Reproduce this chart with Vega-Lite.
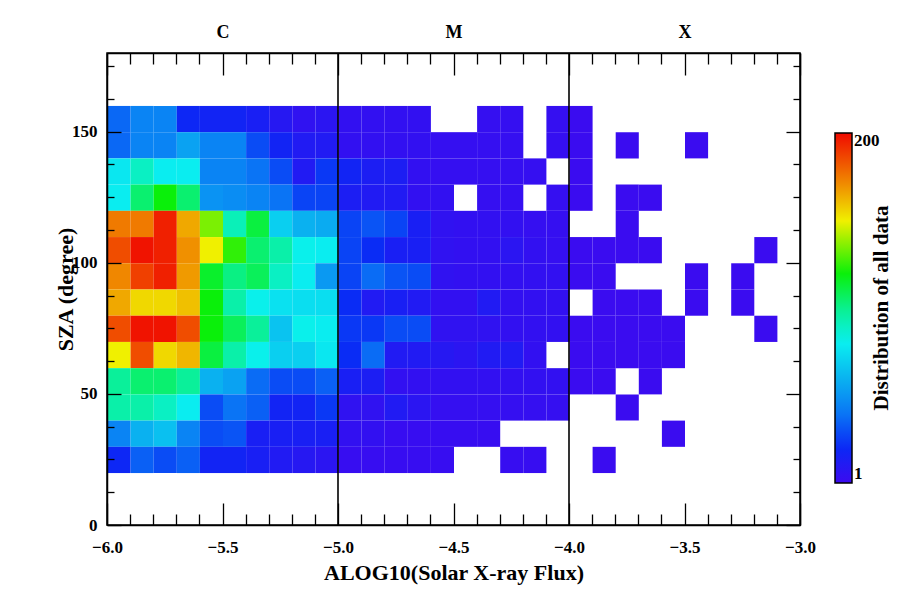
{
  "$schema": "https://vega.github.io/schema/vega-lite/v6.json",
  "width": 693,
  "height": 472,
  "autosize": {"type": "none"},
  "padding": {"left": 107, "top": 53, "right": 111, "bottom": 65},
  "background": "white",
  "config": {
    "view": {"stroke": "#000", "strokeWidth": 1.5, "fill": "white"},
    "font": "Liberation Serif"
  },
  "datasets": {
    "cells": [
      {"x":-6,"y":150,"v":37},{"x":-5.9,"y":150,"v":45},{"x":-5.8,"y":150,"v":45},{"x":-5.7,"y":150,"v":20},{"x":-5.6,"y":150,"v":18},{"x":-5.5,"y":150,"v":18},{"x":-5.4,"y":150,"v":15},{"x":-5.3,"y":150,"v":10},{"x":-5.2,"y":150,"v":6},{"x":-5.1,"y":150,"v":8},
      {"x":-6,"y":140,"v":37},{"x":-5.9,"y":140,"v":45},{"x":-5.8,"y":140,"v":45},{"x":-5.7,"y":140,"v":55},{"x":-5.6,"y":140,"v":45},{"x":-5.5,"y":140,"v":45},{"x":-5.4,"y":140,"v":30},{"x":-5.3,"y":140,"v":18},{"x":-5.2,"y":140,"v":12},{"x":-5.1,"y":140,"v":12},
      {"x":-6,"y":130,"v":78},{"x":-5.9,"y":130,"v":90},{"x":-5.8,"y":130,"v":80},{"x":-5.7,"y":130,"v":80},{"x":-5.6,"y":130,"v":45},{"x":-5.5,"y":130,"v":45},{"x":-5.4,"y":130,"v":40},{"x":-5.3,"y":130,"v":30},{"x":-5.2,"y":130,"v":12},{"x":-5.1,"y":130,"v":25},
      {"x":-6,"y":120,"v":80},{"x":-5.9,"y":120,"v":105},{"x":-5.8,"y":120,"v":120},{"x":-5.7,"y":120,"v":105},{"x":-5.6,"y":120,"v":50},{"x":-5.5,"y":120,"v":48},{"x":-5.4,"y":120,"v":45},{"x":-5.3,"y":120,"v":40},{"x":-5.2,"y":120,"v":28},{"x":-5.1,"y":120,"v":28},
      {"x":-6,"y":110,"v":175},{"x":-5.9,"y":110,"v":175},{"x":-5.8,"y":110,"v":195},{"x":-5.7,"y":110,"v":165},{"x":-5.6,"y":110,"v":135},{"x":-5.5,"y":110,"v":92},{"x":-5.4,"y":110,"v":112},{"x":-5.3,"y":110,"v":70},{"x":-5.2,"y":110,"v":60},{"x":-5.1,"y":110,"v":58},
      {"x":-6,"y":100,"v":185},{"x":-5.9,"y":100,"v":198},{"x":-5.8,"y":100,"v":195},{"x":-5.7,"y":100,"v":170},{"x":-5.6,"y":100,"v":150},{"x":-5.5,"y":100,"v":125},{"x":-5.4,"y":100,"v":105},{"x":-5.3,"y":100,"v":95},{"x":-5.2,"y":100,"v":82},{"x":-5.1,"y":100,"v":80},
      {"x":-6,"y":90,"v":172},{"x":-5.9,"y":90,"v":188},{"x":-5.8,"y":90,"v":195},{"x":-5.7,"y":90,"v":168},{"x":-5.6,"y":90,"v":115},{"x":-5.5,"y":90,"v":102},{"x":-5.4,"y":90,"v":108},{"x":-5.3,"y":90,"v":90},{"x":-5.2,"y":90,"v":80},{"x":-5.1,"y":90,"v":52},
      {"x":-6,"y":80,"v":165},{"x":-5.9,"y":80,"v":155},{"x":-5.8,"y":80,"v":155},{"x":-5.7,"y":80,"v":160},{"x":-5.6,"y":80,"v":120},{"x":-5.5,"y":80,"v":95},{"x":-5.4,"y":80,"v":82},{"x":-5.3,"y":80,"v":76},{"x":-5.2,"y":80,"v":75},{"x":-5.1,"y":80,"v":75},
      {"x":-6,"y":70,"v":185},{"x":-5.9,"y":70,"v":198},{"x":-5.8,"y":70,"v":198},{"x":-5.7,"y":70,"v":185},{"x":-5.6,"y":70,"v":120},{"x":-5.5,"y":70,"v":108},{"x":-5.4,"y":70,"v":98},{"x":-5.3,"y":70,"v":66},{"x":-5.2,"y":70,"v":82},{"x":-5.1,"y":70,"v":80},
      {"x":-6,"y":60,"v":150},{"x":-5.9,"y":60,"v":185},{"x":-5.8,"y":60,"v":155},{"x":-5.7,"y":60,"v":162},{"x":-5.6,"y":60,"v":112},{"x":-5.5,"y":60,"v":95},{"x":-5.4,"y":60,"v":82},{"x":-5.3,"y":60,"v":70},{"x":-5.2,"y":60,"v":70},{"x":-5.1,"y":60,"v":78},
      {"x":-6,"y":50,"v":98},{"x":-5.9,"y":50,"v":105},{"x":-5.8,"y":50,"v":105},{"x":-5.7,"y":50,"v":98},{"x":-5.6,"y":50,"v":60},{"x":-5.5,"y":50,"v":55},{"x":-5.4,"y":50,"v":38},{"x":-5.3,"y":50,"v":30},{"x":-5.2,"y":50,"v":30},{"x":-5.1,"y":50,"v":35},
      {"x":-6,"y":40,"v":95},{"x":-5.9,"y":40,"v":95},{"x":-5.8,"y":40,"v":90},{"x":-5.7,"y":40,"v":80},{"x":-5.6,"y":40,"v":30},{"x":-5.5,"y":40,"v":40},{"x":-5.4,"y":40,"v":35},{"x":-5.3,"y":40,"v":18},{"x":-5.2,"y":40,"v":18},{"x":-5.1,"y":40,"v":25},
      {"x":-6,"y":30,"v":45},{"x":-5.9,"y":30,"v":60},{"x":-5.8,"y":30,"v":65},{"x":-5.7,"y":30,"v":45},{"x":-5.6,"y":30,"v":30},{"x":-5.5,"y":30,"v":32},{"x":-5.4,"y":30,"v":15},{"x":-5.3,"y":30,"v":15},{"x":-5.2,"y":30,"v":15},{"x":-5.1,"y":30,"v":15},
      {"x":-6,"y":20,"v":20},{"x":-5.9,"y":20,"v":35},{"x":-5.8,"y":20,"v":30},{"x":-5.7,"y":20,"v":35},{"x":-5.6,"y":20,"v":18},{"x":-5.5,"y":20,"v":18},{"x":-5.4,"y":20,"v":15},{"x":-5.3,"y":20,"v":12},{"x":-5.2,"y":20,"v":10},{"x":-5.1,"y":20,"v":8},

      {"x":-5,"y":150,"v":5},{"x":-4.9,"y":150,"v":5},{"x":-4.8,"y":150,"v":5},{"x":-4.7,"y":150,"v":5},{"x":-4.4,"y":150,"v":4},{"x":-4.3,"y":150,"v":4},{"x":-4.1,"y":150,"v":4},
      {"x":-5,"y":140,"v":5},{"x":-4.9,"y":140,"v":5},{"x":-4.8,"y":140,"v":5},{"x":-4.7,"y":140,"v":5},{"x":-4.6,"y":140,"v":4},{"x":-4.5,"y":140,"v":4},{"x":-4.4,"y":140,"v":4},{"x":-4.3,"y":140,"v":4},{"x":-4.1,"y":140,"v":4},
      {"x":-5,"y":130,"v":18},{"x":-4.9,"y":130,"v":14},{"x":-4.8,"y":130,"v":14},{"x":-4.7,"y":130,"v":5},{"x":-4.6,"y":130,"v":4},{"x":-4.5,"y":130,"v":4},{"x":-4.4,"y":130,"v":4},{"x":-4.3,"y":130,"v":4},{"x":-4.2,"y":130,"v":4},
      {"x":-5,"y":120,"v":14},{"x":-4.9,"y":120,"v":12},{"x":-4.8,"y":120,"v":12},{"x":-4.7,"y":120,"v":5},{"x":-4.6,"y":120,"v":5},{"x":-4.4,"y":120,"v":4},{"x":-4.3,"y":120,"v":4},{"x":-4.1,"y":120,"v":4},
      {"x":-5,"y":110,"v":28},{"x":-4.9,"y":110,"v":32},{"x":-4.8,"y":110,"v":28},{"x":-4.7,"y":110,"v":15},{"x":-4.6,"y":110,"v":6},{"x":-4.5,"y":110,"v":5},{"x":-4.4,"y":110,"v":5},{"x":-4.3,"y":110,"v":5},{"x":-4.2,"y":110,"v":4},{"x":-4.1,"y":110,"v":4},
      {"x":-5,"y":100,"v":28},{"x":-4.9,"y":100,"v":22},{"x":-4.8,"y":100,"v":15},{"x":-4.7,"y":100,"v":15},{"x":-4.6,"y":100,"v":6},{"x":-4.5,"y":100,"v":5},{"x":-4.4,"y":100,"v":5},{"x":-4.3,"y":100,"v":8},{"x":-4.2,"y":100,"v":5},{"x":-4.1,"y":100,"v":4},
      {"x":-5,"y":90,"v":28},{"x":-4.9,"y":90,"v":38},{"x":-4.8,"y":90,"v":32},{"x":-4.7,"y":90,"v":30},{"x":-4.6,"y":90,"v":6},{"x":-4.5,"y":90,"v":5},{"x":-4.4,"y":90,"v":5},{"x":-4.3,"y":90,"v":5},{"x":-4.2,"y":90,"v":5},{"x":-4.1,"y":90,"v":5},
      {"x":-5,"y":80,"v":22},{"x":-4.9,"y":80,"v":12},{"x":-4.8,"y":80,"v":15},{"x":-4.7,"y":80,"v":12},{"x":-4.6,"y":80,"v":5},{"x":-4.5,"y":80,"v":5},{"x":-4.4,"y":80,"v":12},{"x":-4.3,"y":80,"v":5},{"x":-4.2,"y":80,"v":5},{"x":-4.1,"y":80,"v":5},
      {"x":-5,"y":70,"v":25},{"x":-4.9,"y":70,"v":25},{"x":-4.8,"y":70,"v":30},{"x":-4.7,"y":70,"v":30},{"x":-4.6,"y":70,"v":6},{"x":-4.5,"y":70,"v":6},{"x":-4.4,"y":70,"v":6},{"x":-4.3,"y":70,"v":5},{"x":-4.2,"y":70,"v":5},{"x":-4.1,"y":70,"v":5},
      {"x":-5,"y":60,"v":22},{"x":-4.9,"y":60,"v":38},{"x":-4.8,"y":60,"v":12},{"x":-4.7,"y":60,"v":12},{"x":-4.6,"y":60,"v":10},{"x":-4.5,"y":60,"v":8},{"x":-4.4,"y":60,"v":12},{"x":-4.3,"y":60,"v":12},{"x":-4.2,"y":60,"v":5},
      {"x":-5,"y":50,"v":15},{"x":-4.9,"y":50,"v":14},{"x":-4.8,"y":50,"v":5},{"x":-4.7,"y":50,"v":5},{"x":-4.6,"y":50,"v":5},{"x":-4.5,"y":50,"v":5},{"x":-4.4,"y":50,"v":5},{"x":-4.3,"y":50,"v":5},{"x":-4.2,"y":50,"v":5},{"x":-4.1,"y":50,"v":5},
      {"x":-5,"y":40,"v":6},{"x":-4.9,"y":40,"v":6},{"x":-4.8,"y":40,"v":12},{"x":-4.7,"y":40,"v":8},{"x":-4.6,"y":40,"v":4},{"x":-4.5,"y":40,"v":4},{"x":-4.4,"y":40,"v":4},{"x":-4.3,"y":40,"v":4},{"x":-4.2,"y":40,"v":4},{"x":-4.1,"y":40,"v":4},
      {"x":-5,"y":30,"v":5},{"x":-4.9,"y":30,"v":5},{"x":-4.8,"y":30,"v":3},{"x":-4.7,"y":30,"v":3},{"x":-4.6,"y":30,"v":3},{"x":-4.5,"y":30,"v":3},{"x":-4.4,"y":30,"v":3},
      {"x":-5,"y":20,"v":3},{"x":-4.9,"y":20,"v":3},{"x":-4.8,"y":20,"v":3},{"x":-4.7,"y":20,"v":3},{"x":-4.6,"y":20,"v":3},{"x":-4.3,"y":20,"v":3},{"x":-4.2,"y":20,"v":3},

      {"x":-4,"y":150,"v":2},{"x":-4,"y":140,"v":2},{"x":-4,"y":130,"v":2},{"x":-4,"y":120,"v":2},{"x":-4,"y":100,"v":2},{"x":-4,"y":90,"v":2},{"x":-4,"y":70,"v":2},{"x":-4,"y":60,"v":2},{"x":-4,"y":50,"v":2},
      {"x":-3.9,"y":100,"v":2},{"x":-3.9,"y":90,"v":2},{"x":-3.9,"y":80,"v":2},{"x":-3.9,"y":70,"v":2},{"x":-3.9,"y":60,"v":2},{"x":-3.9,"y":50,"v":2},{"x":-3.9,"y":20,"v":2},
      {"x":-3.8,"y":140,"v":2},{"x":-3.8,"y":120,"v":2},{"x":-3.8,"y":110,"v":2},{"x":-3.8,"y":100,"v":2},{"x":-3.8,"y":80,"v":2},{"x":-3.8,"y":70,"v":2},{"x":-3.8,"y":60,"v":2},{"x":-3.8,"y":40,"v":2},
      {"x":-3.7,"y":120,"v":2},{"x":-3.7,"y":100,"v":2},{"x":-3.7,"y":80,"v":2},{"x":-3.7,"y":70,"v":2},{"x":-3.7,"y":60,"v":2},{"x":-3.7,"y":50,"v":2},
      {"x":-3.6,"y":70,"v":2},{"x":-3.6,"y":60,"v":2},{"x":-3.6,"y":30,"v":2},
      {"x":-3.5,"y":140,"v":2},{"x":-3.5,"y":90,"v":2},{"x":-3.5,"y":80,"v":2},
      {"x":-3.3,"y":90,"v":2},{"x":-3.3,"y":80,"v":2},
      {"x":-3.2,"y":100,"v":2},{"x":-3.2,"y":70,"v":2}
    ],
    "bounds": [{"x": -5}, {"x": -4}]
  },
  "layer": [
    {
      "data": {"name": "cells"},
      "mark": {"type": "rect", "binSpacing": 0},
      "encoding": {
        "x": {
          "field": "x", "type": "quantitative", "bin": {"binned": true, "step": 0.1},
          "scale": {"domain": [-6, -3], "nice": false, "zero": false},
          "axis": {
            "orient": "bottom",
            "title": "ALOG10(Solar X-ray Flux)",
            "titleFont": "Liberation Serif", "titleFontSize": 22, "titleFontWeight": "bold", "titleColor": "#000", "titlePadding": -4,
            "values": [-6,-5.9,-5.8,-5.7,-5.6,-5.5,-5.4,-5.3,-5.2,-5.1,-5,-4.9,-4.8,-4.7,-4.6,-4.5,-4.4,-4.3,-4.2,-4.1,-4,-3.9,-3.8,-3.7,-3.6,-3.5,-3.4,-3.3,-3.2,-3.1,-3],
            "labelExpr": "abs(datum.value*2 - round(datum.value*2)) < 0.01 ? format(datum.value, '.1f') : ''",
            "labelFont": "Liberation Serif", "labelFontSize": 17, "labelFontWeight": "bold", "labelColor": "#000",
            "labelFlush": false, "labelOverlap": false,
            "tickSize": {"condition": {"test": "abs(datum.value*2 - round(datum.value*2)) < 0.01", "value": -22}, "value": -11},
            "labelPadding": 36,
            "tickColor": "#000", "tickWidth": 1.3,
            "domainColor": "#000", "domainWidth": 1.5,
            "grid": false
          }
        },
        "y": {
          "field": "y", "type": "quantitative", "bin": {"binned": true, "step": 10},
          "scale": {"domain": [0, 180], "nice": false, "zero": false},
          "axis": {
            "orient": "left",
            "title": "SZA (degree)",
            "titleFont": "Liberation Serif", "titleFontSize": 22, "titleFontWeight": "bold", "titleColor": "#000", "titlePadding": -6,
            "values": [0,12.5,25,37.5,50,62.5,75,87.5,100,112.5,125,137.5,150,162.5,175],
            "labelExpr": "datum.value % 50 == 0 ? format(datum.value, 'd') : ''",
            "labelFont": "Liberation Serif", "labelFontSize": 17, "labelFontWeight": "bold", "labelColor": "#000",
            "labelFlush": false, "labelOverlap": false,
            "tickSize": {"condition": {"test": "datum.value % 50 == 0", "value": -14}, "value": -7},
            "labelPadding": 24,
            "tickColor": "#000", "tickWidth": 1.3,
            "domainColor": "#000", "domainWidth": 1.5,
            "grid": false
          }
        },
        "color": {
          "field": "v", "type": "quantitative",
          "scale": {
            "domain": [1, 21, 41, 61, 81, 100, 120, 140, 150, 170, 200],
            "range": ["#3c0af0", "#0a28f5", "#0a78f5", "#0ab4f0", "#0af0f0", "#0af090", "#0af00a", "#a0f000", "#f0f000", "#f09000", "#f00a00"],
            "interpolate": "rgb"
          },
          "legend": {
            "orient": "none", "legendX": 728, "legendY": 80,
            "direction": "vertical",
            "values": [1, 200],
            "gradientLength": 350, "gradientThickness": 17,
            "gradientStrokeColor": "#000", "gradientStrokeWidth": 1.5,
            "title": "Distribution of all data",
            "titleOrient": "right", "titleAnchor": "middle", "titlePadding": 12, "titleLimit": 600,
            "titleFont": "Liberation Serif", "titleFontSize": 21, "titleFontWeight": "bold", "titleColor": "#000",
            "labelFont": "Liberation Serif", "labelFontSize": 17, "labelFontWeight": "bold", "labelColor": "#000",
            "labelOverlap": false, "labelOffset": 2,
            "encode": {"title": {"update": {"angle": {"value": 270}}}}
          }
        }
      }
    },
    {
      "data": {"name": "bounds"},
      "mark": {"type": "rule", "color": "#000", "strokeWidth": 1.6},
      "encoding": {
        "x": {
          "field": "x", "type": "quantitative",
          "axis": {
            "orient": "top", "title": null,
            "values": [-6,-5.9,-5.8,-5.7,-5.6,-5.5,-5.4,-5.3,-5.2,-5.1,-5,-4.9,-4.8,-4.7,-4.6,-4.5,-4.4,-4.3,-4.2,-4.1,-4,-3.9,-3.8,-3.7,-3.6,-3.5,-3.4,-3.3,-3.2,-3.1,-3],
            "labelExpr": "abs(datum.value + 5.5) < 0.01 ? 'C' : abs(datum.value + 4.5) < 0.01 ? 'M' : abs(datum.value + 3.5) < 0.01 ? 'X' : ''",
            "labelFont": "Liberation Serif", "labelFontSize": 18, "labelFontWeight": "bold", "labelColor": "#000",
            "labelFlush": false, "labelOverlap": false,
            "tickSize": {"condition": {"test": "abs(datum.value*2 - round(datum.value*2)) < 0.01", "value": -22}, "value": -11},
            "labelPadding": 34,
            "tickColor": "#000", "tickWidth": 1.3,
            "domainColor": "#000", "domainWidth": 1.5,
            "grid": false
          }
        },
        "y": {
          "datum": 0, "type": "quantitative",
          "axis": {
            "orient": "right", "title": null,
            "values": [0,12.5,25,37.5,50,62.5,75,87.5,100,112.5,125,137.5,150,162.5,175],
            "labels": false,
            "tickSize": {"condition": {"test": "datum.value % 50 == 0", "value": -14}, "value": -7},
            "tickColor": "#000", "tickWidth": 1.3,
            "domainColor": "#000", "domainWidth": 1.5,
            "grid": false
          }
        },
        "y2": {"datum": 180}
      }
    }
  ],
  "resolve": {"axis": {"x": "independent", "y": "independent"}}
}
